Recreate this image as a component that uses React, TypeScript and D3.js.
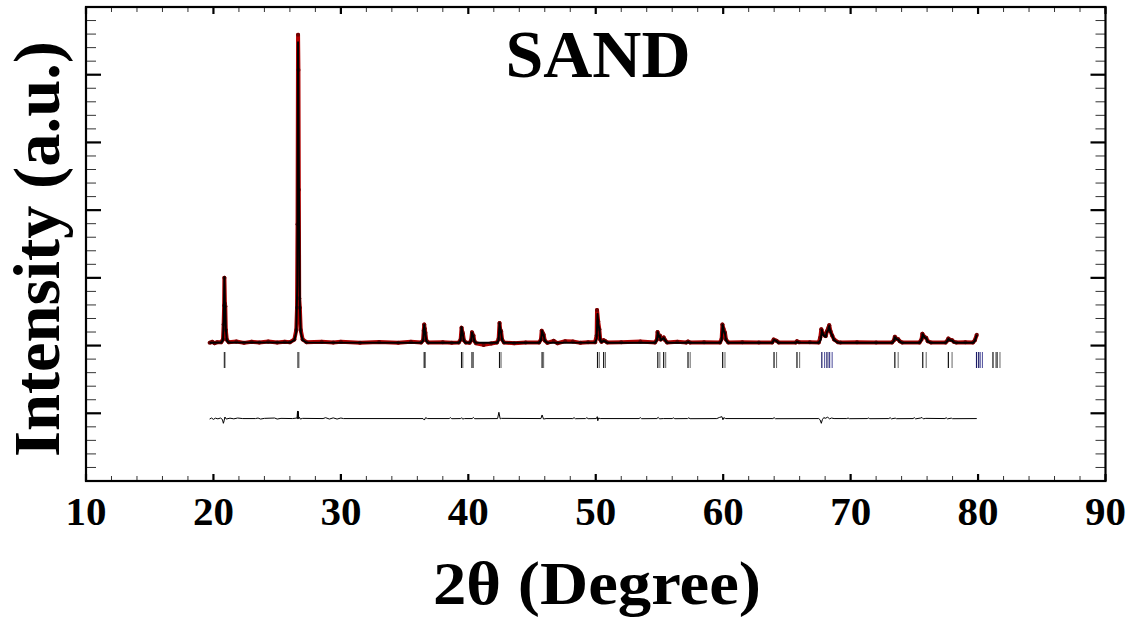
import React from "react";
import * as d3 from "d3";

const W = 1135;
const H = 630;
const PLOT = { left: 86, right: 1105.5, top: 7, bottom: 481 };

const xDomain: [number, number] = [10, 90];
const yDomain: [number, number] = [-1000, 6000];
const xMajorTicks = [10, 20, 30, 40, 50, 60, 70, 80, 90];
const xTickLabels = ["10", "20", "30", "40", "50", "60", "70", "80", "90"];
const xMinorStep = 2;
const yMajorTicks = [0, 1000, 2000, 3000, 4000, 5000];
const yMinorStep = 200;

const titleText = "SAND";
const xLabel = "2θ (Degree)";
const yLabel = "Intensity (a.u.)";

// Calculated profile (2θ, intensity)
const calcProfile: [number, number][] = [
  [19.7, 1040], [20.6, 1045], [20.75, 1080], [20.81, 1400], [20.86, 2010], [20.9, 1600], [20.93, 1575], [20.97, 1250], [21.05, 1075], [21.2, 1045],
  [26.0, 1045], [26.35, 1080], [26.5, 1200], [26.58, 1900], [26.64, 5480], [26.68, 4200], [26.71, 3300], [26.74, 2600], [26.78, 1600], [26.85, 1200], [27.0, 1080], [27.3, 1045],
  [36.3, 1040], [36.45, 1070], [36.5, 1200], [36.54, 1304], [36.58, 1230], [36.63, 1180], [36.7, 1070], [36.85, 1040],
  [39.25, 1040], [39.4, 1080], [39.47, 1270], [39.52, 1200], [39.57, 1170], [39.65, 1070], [39.8, 1040],
  [40.1, 1040], [40.22, 1070], [40.29, 1190], [40.34, 1150], [40.4, 1140], [40.47, 1060], [40.6, 1040],
  [42.25, 1040], [42.38, 1080], [42.45, 1330], [42.5, 1250], [42.57, 1200], [42.65, 1080], [42.8, 1040],
  [45.55, 1040], [45.7, 1080], [45.79, 1215], [45.84, 1170], [45.91, 1150], [46.0, 1070], [46.2, 1040],
  [49.95, 1045], [50.07, 1100], [50.14, 1470], [50.19, 1330], [50.28, 1250], [50.35, 1080], [50.45, 1050], [50.62, 1070], [50.76, 1060], [50.9, 1040],
  [54.65, 1040], [54.8, 1080], [54.87, 1196], [54.93, 1130], [55.03, 1140], [55.1, 1080], [55.33, 1110], [55.45, 1075], [55.6, 1040],
  [57.1, 1040], [57.24, 1052], [57.4, 1040],
  [59.75, 1040], [59.88, 1080], [59.96, 1304], [60.02, 1230], [60.14, 1180], [60.22, 1080], [60.4, 1040],
  [63.85, 1040], [63.99, 1083], [64.19, 1065], [64.35, 1040],
  [65.7, 1040], [65.79, 1055], [65.95, 1045],
  [67.5, 1040], [67.66, 1090], [67.74, 1230], [67.85, 1160], [67.96, 1140], [68.05, 1130], [68.14, 1200], [68.25, 1230], [68.32, 1290], [68.42, 1200], [68.55, 1150], [68.7, 1080], [69.0, 1045], [69.2, 1040],
  [73.25, 1040], [73.4, 1070], [73.47, 1123], [73.6, 1095], [73.73, 1090], [73.85, 1060], [74.05, 1040],
  [75.4, 1040], [75.56, 1080], [75.66, 1167], [75.8, 1120], [75.93, 1110], [76.05, 1060], [76.3, 1040],
  [77.45, 1040], [77.6, 1070], [77.67, 1097], [77.8, 1080], [77.96, 1075], [78.1, 1050], [78.3, 1040],
  [79.6, 1040], [79.75, 1070], [79.9, 1157],
];

// Observed data (2θ, intensity)
const obsProfile: [number, number][] = [
  [19.7, 1040], [19.9, 1055], [20.1, 1035], [20.3, 1050], [20.6, 1048], [20.75, 1090], [20.8, 1310], [20.84, 1590], [20.86, 2000], [20.9, 1620], [20.93, 1580], [20.97, 1230], [21.05, 1085], [21.2, 1050],
  [21.8, 1060], [22.4, 1040], [23.0, 1055], [23.6, 1045], [24.3, 1060], [25.0, 1045], [25.6, 1055],
  [26.0, 1050], [26.35, 1090], [26.5, 1230], [26.56, 1560], [26.6, 2790], [26.64, 5590], [26.67, 5070], [26.7, 3300], [26.73, 1700], [26.78, 1560], [26.85, 1230], [27.0, 1090], [27.3, 1050],
  [28.5, 1055], [29.4, 1045], [30.0, 1058], [31.5, 1042], [33.0, 1052], [34.5, 1040], [35.5, 1055],
  [36.3, 1045], [36.45, 1080], [36.5, 1220], [36.54, 1310], [36.58, 1250], [36.63, 1190], [36.7, 1080], [36.85, 1045],
  [38.0, 1050], [38.7, 1040],
  [39.25, 1045], [39.4, 1090], [39.47, 1265], [39.52, 1210], [39.57, 1180], [39.65, 1080], [39.8, 1045],
  [40.1, 1040], [40.22, 1080], [40.29, 1195], [40.34, 1160], [40.4, 1150], [40.47, 1070], [40.6, 1035],
  [41.2, 1010], [41.8, 1030],
  [42.25, 1045], [42.38, 1100], [42.45, 1335], [42.5, 1240], [42.57, 1210], [42.65, 1090], [42.8, 1045],
  [43.6, 1035], [44.5, 1045],
  [45.55, 1045], [45.7, 1090], [45.76, 1220], [45.84, 1185], [45.91, 1160], [46.0, 1075], [46.2, 1040],
  [46.7, 1070], [47.0, 1035], [47.6, 1065], [48.2, 1060], [48.8, 1040], [49.4, 1050],
  [49.95, 1050], [50.07, 1150], [50.1, 1526], [50.19, 1360], [50.28, 1240], [50.35, 1090], [50.45, 1055], [50.62, 1080], [50.76, 1065], [50.9, 1045],
  [52.0, 1050], [53.5, 1060],
  [54.65, 1045], [54.8, 1090], [54.85, 1200], [54.93, 1150], [55.03, 1150], [55.1, 1090], [55.33, 1120], [55.45, 1080], [55.6, 1045],
  [56.4, 1055], [57.1, 1045], [57.24, 1060], [57.4, 1045], [58.5, 1050],
  [59.75, 1045], [59.88, 1100], [59.94, 1310], [60.02, 1250], [60.14, 1190], [60.22, 1090], [60.4, 1045],
  [61.5, 1050], [62.8, 1045],
  [63.85, 1045], [63.96, 1090], [64.19, 1070], [64.35, 1045],
  [65.7, 1045], [65.79, 1065], [65.95, 1048],
  [66.8, 1050],
  [67.5, 1045], [67.62, 1120], [67.7, 1240], [67.85, 1170], [67.96, 1150], [68.05, 1140], [68.14, 1210], [68.25, 1260], [68.32, 1300], [68.42, 1210], [68.55, 1150], [68.7, 1090], [69.0, 1050], [69.2, 1045],
  [70.5, 1050], [72.0, 1045],
  [73.25, 1045], [73.4, 1080], [73.47, 1130], [73.6, 1100], [73.73, 1095], [73.85, 1065], [74.05, 1045],
  [75.4, 1045], [75.56, 1090], [75.63, 1175], [75.8, 1125], [75.93, 1115], [76.05, 1065], [76.3, 1045],
  [77.45, 1045], [77.6, 1075], [77.67, 1105], [77.8, 1085], [77.96, 1080], [78.1, 1055], [78.3, 1045],
  [79.0, 1050], [79.6, 1045], [79.75, 1080], [79.9, 1160],
];

// Difference (obs - calc) curve, offset below
const diffProfile: [number, number][] = [
  [19.7, -85], [19.85, -70], [20.0, -90], [20.15, -72], [20.35, -82], [20.55, -70], [20.7, -90], [20.78, -148], [20.84, -110], [20.9, -55], [21.0, -85], [21.3, -72], [21.6, -82], [21.9, -70],
  [22.3, -78], [23.3, -78], [23.5, -70], [23.7, -85], [24.0, -75], [24.8, -70], [25.0, -85], [25.3, -75], [26.2, -78],
  [26.56, -70], [26.6, 34], [26.62, -85], [26.66, 30], [26.69, -80], [26.75, -60], [26.82, -85], [27.0, -75],
  [28.6, -78], [28.8, -65], [29.1, -85], [29.4, -68], [29.7, -85], [30.0, -70], [30.2, -78],
  [36.45, -78], [36.55, -100], [36.65, -65], [36.8, -78],
  [38.5, -78], [38.6, -65], [38.7, -80], [39.4, -78], [39.47, -65], [39.55, -85], [39.7, -78],
  [40.3, -78], [40.4, -62], [40.5, -80], [42.3, -78], [42.4, 15], [42.5, -82], [42.6, -75],
  [45.7, -78], [45.79, -25], [45.9, -85], [46.1, -78],
  [48.2, -78], [48.3, -65], [48.4, -80], [49.2, -78], [49.3, -65], [49.4, -80],
  [50.05, -78], [50.12, -50], [50.16, -110], [50.22, -70], [50.35, -78],
  [53.4, -78], [53.5, -65], [53.6, -80], [54.8, -78], [54.9, -60], [55.0, -82], [55.3, -78],
  [56.0, -78], [56.1, -68], [56.2, -80], [57.2, -78], [57.3, -68], [57.4, -80],
  [59.5, -78], [59.7, -62], [59.9, -50], [59.98, -95], [60.05, -65], [60.2, -78],
  [63.9, -78], [64.0, -65], [64.1, -80],
  [67.5, -78], [67.6, -95], [67.7, -148], [67.78, -95], [67.9, -62], [68.0, -75], [68.2, -58], [68.35, -82], [68.5, -70], [68.7, -78],
  [69.7, -78], [69.8, -70], [69.9, -80], [71.3, -78], [71.4, -70], [71.5, -80],
  [73.0, -78], [73.1, -65], [73.2, -82], [73.5, -72], [73.6, -80],
  [74.9, -78], [75.0, -65], [75.1, -82], [75.5, -70], [75.6, -62], [75.7, -82], [75.9, -75],
  [77.4, -78], [77.5, -66], [77.6, -82], [77.9, -72], [78.0, -80], [79.9, -78],
];

// Bragg reflection positions (Kα1 and Kα2)
const braggKa1 = [20.86, 26.64, 36.54, 39.47, 40.29, 42.45, 45.79, 50.14, 50.62, 54.87, 55.33, 57.24, 59.96, 63.99, 65.79, 67.74, 68.14, 68.32, 73.47, 75.66, 77.67, 79.88, 80.05, 81.17, 81.49];
const braggKa2 = [20.91, 26.71, 36.63, 39.57, 40.4, 42.57, 45.91, 50.28, 50.76, 55.03, 55.49, 57.41, 60.14, 64.19, 66.0, 67.96, 68.36, 68.55, 73.73, 75.93, 77.96, 80.17, 80.34, 81.4, 81.72];

const FONT = "'Liberation Serif', 'Times New Roman', Times, serif";

export default function App() {
  const x = d3.scaleLinear().domain(xDomain).range([PLOT.left, PLOT.right]);
  const y = d3.scaleLinear().domain(yDomain).range([PLOT.bottom, PLOT.top]);

  const line = d3
    .line<[number, number]>()
    .x((d) => x(d[0]))
    .y((d) => y(d[1]));

  const xMinor = d3.range(xDomain[0], xDomain[1] + 0.001, xMinorStep).filter((v) => !xMajorTicks.includes(v));
  const yMinor = d3
    .range(yDomain[0], yDomain[1] + 0.001, yMinorStep)
    .filter((v) => !yMajorTicks.some((m) => Math.abs(m - v) < 1e-6) && v > yDomain[0] && v < yDomain[1]);

  const braggColor = (v: number, second: boolean) => {
    if ((v > 67.6 && v < 68.7) || (v > 79.8 && v < 80.4)) return second ? "#4a4a99" : "#1a1a66";
    return second ? "#666" : "#111";
  };

  const braggTop = 352;
  const braggBottom = 368;

  return (
    <svg
      width={W}
      height={H}
      style={{ position: "absolute", left: 0, top: 0, background: "#fff", display: "block" }}
      fontFamily={FONT}
    >
      <rect x={0} y={0} width={W} height={H} fill="#fff" />

      {/* observed band */}
      <path d={line(obsProfile) || ""} fill="none" stroke="#b00000" strokeWidth={4} strokeLinejoin="round" />
      {obsProfile.map((d, i) => (
        <circle key={"o" + i} cx={x(d[0])} cy={y(d[1])} r={2} fill="#6e0000" />
      ))}
      {/* calculated */}
      <path d={line(calcProfile) || ""} fill="none" stroke="#000" strokeWidth={2} strokeLinejoin="round" />

      {/* Bragg ticks */}
      {braggKa1.map((v, i) => (
        <line key={"b1" + i} x1={x(v)} x2={x(v)} y1={braggTop} y2={braggBottom} stroke={braggColor(v, false)} strokeWidth={1.2} />
      ))}
      {braggKa2.map((v, i) => (
        <line key={"b2" + i} x1={x(v)} x2={x(v)} y1={braggTop} y2={braggBottom} stroke={braggColor(v, true)} strokeWidth={1} />
      ))}

      {/* difference */}
      <path d={line(diffProfile) || ""} fill="none" stroke="#000" strokeWidth={1} />

      {/* left & right ticks */}
      {yMajorTicks.map((v) => (
        <g key={"ym" + v}>
          <line x1={PLOT.left} x2={PLOT.left + 15} y1={y(v)} y2={y(v)} stroke="#000" strokeWidth={2.2} />
          <line x1={PLOT.right - 15} x2={PLOT.right} y1={y(v)} y2={y(v)} stroke="#000" strokeWidth={2.2} />
        </g>
      ))}
      {yMinor.map((v) => (
        <g key={"yn" + v}>
          <line x1={PLOT.left} x2={PLOT.left + 10} y1={y(v)} y2={y(v)} stroke="#333" strokeWidth={1} />
          <line x1={PLOT.right - 10} x2={PLOT.right} y1={y(v)} y2={y(v)} stroke="#333" strokeWidth={1} />
        </g>
      ))}
      {/* top & bottom ticks */}
      {xMajorTicks.map((v) => (
        <g key={"xm" + v}>
          <line x1={x(v)} x2={x(v)} y1={PLOT.bottom} y2={PLOT.bottom - 7} stroke="#000" strokeWidth={2.2} />
          <line x1={x(v)} x2={x(v)} y1={PLOT.top} y2={PLOT.top + 7} stroke="#000" strokeWidth={2.2} />
        </g>
      ))}
      {xMinor.map((v) => (
        <g key={"xn" + v}>
          <line x1={x(v)} x2={x(v)} y1={PLOT.bottom} y2={PLOT.bottom - 5} stroke="#333" strokeWidth={1} />
          <line x1={x(v)} x2={x(v)} y1={PLOT.top} y2={PLOT.top + 5} stroke="#333" strokeWidth={1} />
        </g>
      ))}

      {/* frame */}
      <rect
        x={PLOT.left}
        y={PLOT.top}
        width={PLOT.right - PLOT.left}
        height={PLOT.bottom - PLOT.top}
        fill="none"
        stroke="#000"
        strokeWidth={2.2}
      />

      {/* tick labels */}
      {xMajorTicks.map((v, i) => (
        <text key={"xl" + v} x={x(v)} y={525} textAnchor="middle" fontSize={41} fontWeight="bold" fill="#000">
          {xTickLabels[i]}
        </text>
      ))}

      {/* title */}
      <text x={598} y={77} textAnchor="middle" fontSize={68} fontWeight="bold" fill="#000">
        {titleText}
      </text>

      {/* axis labels */}
      <text
        x={597}
        y={604}
        textAnchor="middle"
        fontSize={61}
        fontWeight="bold"
        fill="#000"
        textLength={328}
        lengthAdjust="spacingAndGlyphs"
      >
        {xLabel}
      </text>
      <text
        transform={`translate(59, 249) rotate(-90)`}
        textAnchor="middle"
        fontSize={65}
        fontWeight="bold"
        fill="#000"
        textLength={416}
        lengthAdjust="spacingAndGlyphs"
      >
        {yLabel}
      </text>
    </svg>
  );
}
